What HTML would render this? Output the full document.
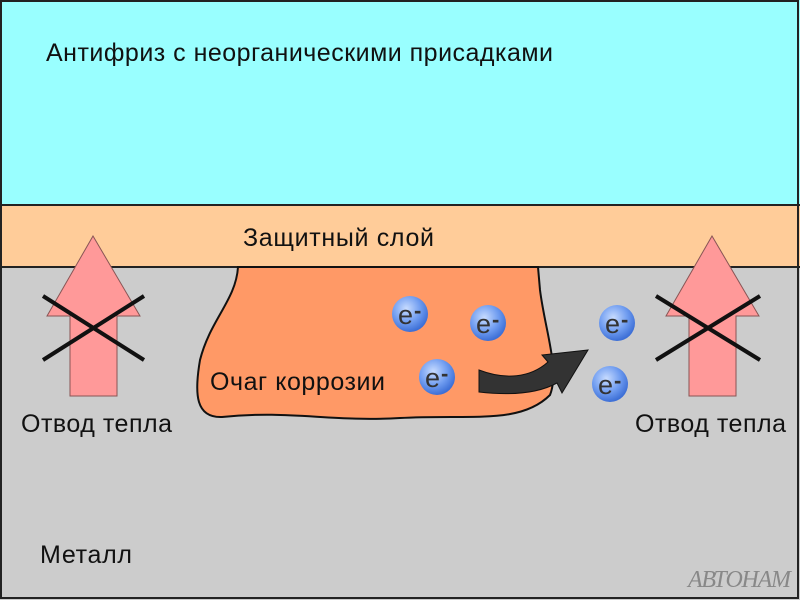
<!DOCTYPE html><html><head><style>body{margin:0}svg{display:block}</style></head><body>
<svg width="800" height="600" xmlns="http://www.w3.org/2000/svg" font-family="Liberation Sans, sans-serif">
<defs><radialGradient id="e" cx="0.4" cy="0.35" r="0.65"><stop offset="0" stop-color="#c8dcff"/><stop offset="0.6" stop-color="#6f9cf0"/><stop offset="1" stop-color="#3d6fd6"/></radialGradient></defs>
<rect x="0" y="0" width="800" height="205" fill="#99ffff"/>
<rect x="0" y="205" width="800" height="62" fill="#ffcc99"/>
<rect x="0" y="267" width="800" height="333" fill="#cccccc"/>
<line x1="0" y1="205" x2="800" y2="205" stroke="#222" stroke-width="2"/>
<line x1="0" y1="267" x2="800" y2="267" stroke="#222" stroke-width="2"/>
<rect x="1" y="1" width="797" height="597" fill="none" stroke="#222" stroke-width="2"/>
<path d="M238,267 C236,300 210,320 200,360 C194,395 196,418 222,417 C290,410 330,422 400,418 C470,414 520,425 550,395 C560,370 545,330 540,290 L538,267 Z" fill="#ff9966" stroke="#111" stroke-width="2"/>
<g fill="#ff9999" stroke="#885555" stroke-width="1">
<path d="M93,236 L140,316 L117,316 L117,396 L70,396 L70,316 L47,316 Z"/>
<path d="M712,236 L759,316 L736,316 L736,396 L689,396 L689,316 L666,316 Z"/>
</g>
<g stroke="#111" stroke-width="4">
<line x1="43" y1="296" x2="144" y2="360"/><line x1="43" y1="360" x2="144" y2="296"/>
<line x1="656" y1="296" x2="760" y2="360"/><line x1="656" y1="360" x2="760" y2="296"/>
</g>
<path d="M479,370 C505,380 530,378 548,362 L542,355 L588,350 L562,393 L557,383 C535,395 505,395 479,392 Z" fill="#333" stroke="#111"/>
<g font-size="27" fill="#333">
<circle cx="410" cy="314" r="18" fill="url(#e)"/><text x="398" y="324">e</text><text x="414" y="318" font-size="22" font-weight="bold">-</text>
<circle cx="488" cy="323" r="18" fill="url(#e)"/><text x="476" y="333">e</text><text x="492" y="327" font-size="22" font-weight="bold">-</text>
<circle cx="617" cy="323" r="18" fill="url(#e)"/><text x="605" y="333">e</text><text x="621" y="327" font-size="22" font-weight="bold">-</text>
<circle cx="437" cy="377" r="18" fill="url(#e)"/><text x="425" y="387">e</text><text x="441" y="381" font-size="22" font-weight="bold">-</text>
<circle cx="610" cy="384" r="18" fill="url(#e)"/><text x="598" y="394">e</text><text x="614" y="388" font-size="22" font-weight="bold">-</text>
</g>
<g font-size="25" fill="#111">
<text x="46" y="61" textLength="507">Антифриз с неорганическими присадками</text>
<text x="243" y="246" textLength="191">Защитный слой</text>
<text x="210" y="390" textLength="175">Очаг коррозии</text>
<text x="21" y="432" textLength="151">Отвод тепла</text>
<text x="635" y="432" textLength="151">Отвод тепла</text>
<text x="40" y="563" textLength="92">Металл</text>
</g>
<text x="688" y="587" font-size="24" font-style="italic" font-family="Liberation Serif, serif" fill="#888" textLength="103">АВТОНАМ</text>
</svg>
</body></html>
